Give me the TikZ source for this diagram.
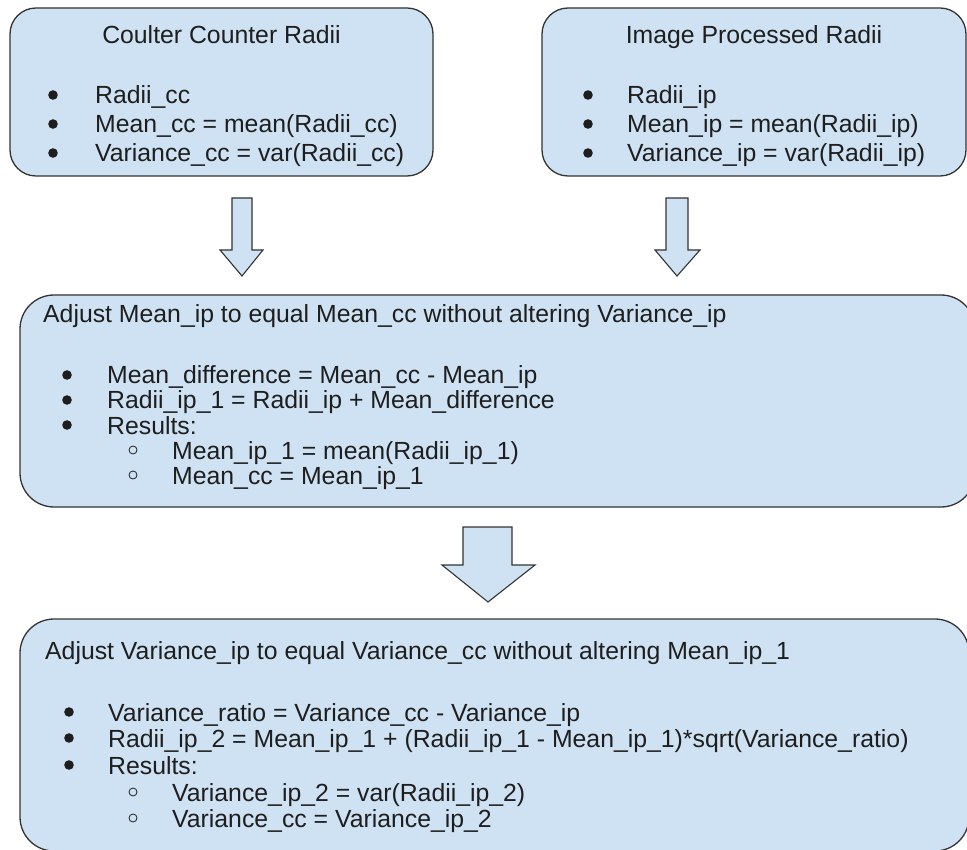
\documentclass[tikz,border=0pt]{standalone}
\usepackage{fontspec}
\setmainfont{Liberation Sans}
\definecolor{boxfill}{HTML}{CFE2F3}
\definecolor{boxline}{HTML}{333333}
\definecolor{ink}{HTML}{1E1E1E}
\tikzset{
  box/.style={draw=boxline, fill=boxfill, line width=1.3pt, rounded corners=26pt},
  bigbox/.style={box, rounded corners=34pt},
  txt/.style={anchor=base west, inner sep=0pt, font=\fontsize{24.8}{29}\selectfont, text=ink},
  ctxt/.style={txt, anchor=base},
  dot/.style={fill=ink, draw=none},
  ring/.style={draw=ink, line width=0.8pt, fill=none},
  blockarrow/.style={draw=boxline, fill=boxfill, line width=1.1pt, line join=miter},
}
\begin{document}
\begin{tikzpicture}[x=1pt,y=-1pt]
\useasboundingbox (0,0) rectangle (967,850);
\fill[white] (0,0) rectangle (967,850);
\begin{scope}
\clip (0,0) rectangle (967,850);

% top-left box
\draw[box] (10,8) rectangle (433,176);
\node[ctxt] (cct) at (221.5,44) {Coulter Counter Radii};
\fill[dot] (53,95) circle (4.8);
\fill[dot] (53,124) circle (4.8);
\fill[dot] (53,153) circle (4.8);
\node[txt] (cc1) at (95,104) {Radii\_cc};
\node[txt] (cc2) at (95,133) {Mean\_cc = mean(Radii\_cc)};
\node[txt] (cc3) at (95,162) {Variance\_cc = var(Radii\_cc)};

% top-right box
\draw[box] (542,8) rectangle (966,176);
\node[ctxt] (ipt) at (754,44) {Image Processed Radii};
\fill[dot] (588,95) circle (4.8);
\fill[dot] (588,124) circle (4.8);
\fill[dot] (588,153) circle (4.8);
\node[txt] (ip1) at (627,104) {Radii\_ip};
\node[txt] (ip2) at (627,133) {Mean\_ip = mean(Radii\_ip)};
\node[txt] (ip3) at (627,162) {Variance\_ip = var(Radii\_ip)};

% small arrows
\draw[blockarrow] (232,198) -- (252,198) -- (252,250) -- (263,250) -- (242,276) -- (220,250) -- (232,250) -- cycle;
\draw[blockarrow] (666,198) -- (688,198) -- (688,250) -- (700,250) -- (677,276) -- (655,250) -- (666,250) -- cycle;

% middle box
\draw[bigbox] (20,295) rectangle (975,507);
\node[txt] (mt) at (43,323) {Adjust Mean\_ip to equal Mean\_cc without altering Variance\_ip};
\fill[dot] (67,375) circle (4.8);
\fill[dot] (67,400) circle (4.8);
\fill[dot] (67,425) circle (4.8);
\node[txt] (m1) at (107,384) {Mean\_difference = Mean\_cc - Mean\_ip};
\node[txt] (m2) at (107,409) {Radii\_ip\_1 = Radii\_ip + Mean\_difference};
\node[txt] (m3) at (107,434) {Results:};
\draw[ring] (133,450) circle (4);
\draw[ring] (133,475) circle (4);
\node[txt] (m4) at (172,459) {Mean\_ip\_1 = mean(Radii\_ip\_1)};
\node[txt] (m5) at (172,484) {Mean\_cc = Mean\_ip\_1};

% big arrow
\draw[blockarrow] (463,527) -- (512,527) -- (512,565) -- (535,565) -- (488,602) -- (442,565) -- (463,565) -- cycle;

% bottom box
\draw[bigbox] (20,619) rectangle (969,851);
\node[txt] (bt) at (45,659) {Adjust Variance\_ip to equal Variance\_cc without altering Mean\_ip\_1};
\fill[dot] (69,712) circle (4.8);
\fill[dot] (69,738) circle (4.8);
\fill[dot] (69,765) circle (4.8);
\node[txt] (b1) at (108,721) {Variance\_ratio = Variance\_cc - Variance\_ip};
\node[txt] (b2) at (108,747) {Radii\_ip\_2 = Mean\_ip\_1 + (Radii\_ip\_1 - Mean\_ip\_1)*sqrt(Variance\_ratio)};
\node[txt] (b3) at (108,774) {Results:};
\draw[ring] (133,792) circle (4);
\draw[ring] (133,818) circle (4);
\node[txt] (b4) at (172,801) {Variance\_ip\_2 = var(Radii\_ip\_2)};
\node[txt] (b5) at (172,827) {Variance\_cc = Variance\_ip\_2};
\end{scope}
\end{tikzpicture}
\end{document}
